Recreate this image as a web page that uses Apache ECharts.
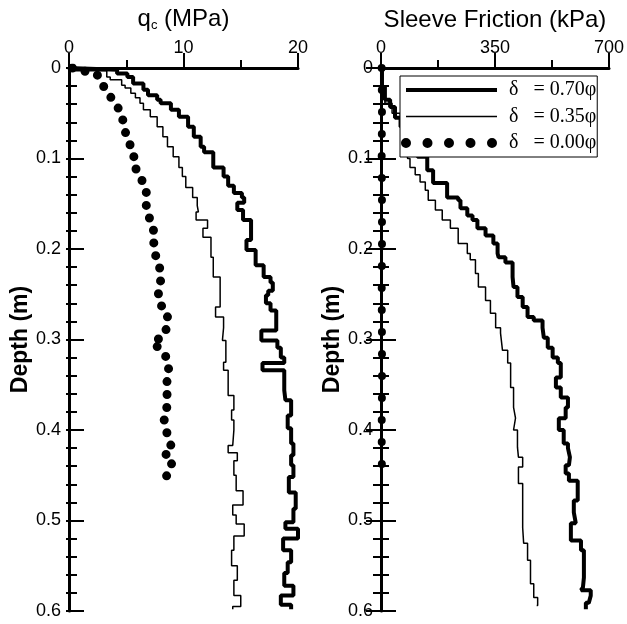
<!DOCTYPE html>
<html>
<head>
<meta charset="utf-8">
<script src="https://cdn.jsdelivr.net/npm/echarts@6/dist/echarts.min.js"></script>
<style>
html, body { margin: 0; padding: 0; background: #fff; }
#chart { width: 627px; height: 624px; }
</style>
</head>
<body>
<div id="chart"></div>
<script>
// legend names
const names = ['δ   = 0.70φ', 'δ   = 0.35φ', 'δ   = 0.00φ']

// cone resistance qc (MPa) against depth (m)
const qcDepth70 = [0, 0.002, 0.006, 0.01, 0.017, 0.024, 0.03, 0.035, 0.039, 0.046, 0.054, 0.065, 0.076, 0.087, 0.093, 0.11, 0.12, 0.13, 0.138, 0.143, 0.149, 0.157, 0.168, 0.19, 0.201, 0.218, 0.231, 0.237, 0.246, 0.251, 0.26, 0.268, 0.29, 0.301, 0.309, 0.32, 0.326, 0.334, 0.356, 0.367, 0.384, 0.398, 0.415, 0.428, 0.439, 0.452, 0.469, 0.487, 0.502, 0.509, 0.52, 0.533, 0.546, 0.558, 0.572, 0.583, 0.593, 0.598]
const qc70 = [0, 4.2, 5.1, 5.6, 6.5, 6.9, 7.7, 8.0, 8.9, 9.6, 10.4, 10.9, 11.5, 11.8, 12.6, 13.5, 13.9, 14.4, 15.1, 15.3, 14.7, 15.2, 15.9, 15.5, 16.3, 17.0, 17.6, 17.8, 17.4, 17.2, 17.6, 18.1, 16.8, 18.2, 18.5, 18.8, 16.9, 18.8, 18.9, 19.4, 19.1, 19.4, 19.6, 19.4, 19.6, 19.2, 19.8, 19.6, 18.9, 20.0, 18.7, 19.4, 19.1, 18.8, 19.6, 18.5, 19.4, 19.4]

const qcDepth35 = [0, 0.003, 0.01, 0.013, 0.019, 0.022, 0.028, 0.033, 0.039, 0.046, 0.054, 0.065, 0.076, 0.087, 0.098, 0.11, 0.12, 0.132, 0.143, 0.152, 0.159, 0.168, 0.177, 0.187, 0.209, 0.231, 0.264, 0.275, 0.287, 0.301, 0.325, 0.334, 0.362, 0.378, 0.389, 0.4, 0.417, 0.425, 0.434, 0.45, 0.467, 0.483, 0.494, 0.504, 0.517, 0.533, 0.55, 0.566, 0.583, 0.595, 0.598]
const qc35 = [0, 3.3, 3.6, 4.6, 4.9, 5.4, 5.8, 6.2, 6.5, 7.1, 7.7, 8.2, 8.6, 9.1, 9.6, 9.9, 10.2, 10.8, 11.2, 11.3, 11.1, 12.1, 11.7, 12.4, 12.6, 13.2, 12.8, 13.5, 13.4, 13.7, 13.5, 13.9, 14.4, 14.2, 14.4, 14.3, 13.9, 14.7, 14.4, 14.6, 15.2, 14.3, 14.6, 15.3, 14.4, 14.2, 14.7, 14.4, 15.0, 14.3, 14.3]

const qcDepth00 = [0, 0.002, 0.008, 0.022, 0.037, 0.05, 0.065, 0.079, 0.094, 0.105, 0.118, 0.133, 0.152, 0.157, 0.171, 0.183, 0.194, 0.205, 0.218, 0.235, 0.248, 0.26, 0.271, 0.284, 0.296, 0.303, 0.309, 0.321, 0.333, 0.352, 0.366, 0.381, 0.388, 0.406, 0.417, 0.425, 0.434, 0.441, 0.455, 0.462]
const qc00 = [0.3, 1.0, 2.5, 3.1, 3.9, 4.6, 4.8, 5.1, 5.7, 5.6, 6.1, 6.75, 6.75, 6.9, 7.1, 7.5, 7.4, 7.5, 7.9, 8.0, 7.8, 7.9, 8.6, 8.6, 8.3, 7.3, 7.8, 8.6, 8.7, 8.5, 8.6, 8.5, 8.3, 8.6, 8.9, 8.3, 9.1, 8.8, 8.4, 8.3]

// sleeve friction (kPa) against depth (m)
const fsDepth70 = [0, 0.021, 0.035, 0.043, 0.055, 0.065, 0.075, 0.085, 0.098, 0.113, 0.127, 0.143, 0.146, 0.155, 0.163, 0.168, 0.177, 0.185, 0.194, 0.205, 0.209, 0.215, 0.231, 0.242, 0.253, 0.264, 0.275, 0.279, 0.287, 0.298, 0.309, 0.32, 0.326, 0.342, 0.353, 0.364, 0.375, 0.387, 0.4, 0.415, 0.42, 0.43, 0.439, 0.448, 0.456, 0.478, 0.491, 0.503, 0.522, 0.533, 0.563, 0.574, 0.577, 0.583, 0.591, 0.598]
const fs70 = [3, 12, 28, 43, 60, 78, 95, 112, 142, 160, 203, 237, 244, 265, 281, 296, 321, 345, 358, 361, 382, 404, 407, 419, 435, 450, 469, 496, 500, 512, 527, 543, 552, 537, 552, 574, 567, 546, 561, 574, 580, 577, 567, 577, 604, 592, 598, 583, 614, 623, 620, 614, 644, 638, 629, 629]

const fsDepth35 = [0, 0.021, 0.039, 0.05, 0.06, 0.07, 0.08, 0.09, 0.1, 0.11, 0.118, 0.126, 0.135, 0.146, 0.157, 0.168, 0.177, 0.194, 0.205, 0.212, 0.227, 0.242, 0.257, 0.271, 0.287, 0.293, 0.312, 0.326, 0.353, 0.375, 0.387, 0.4, 0.419, 0.43, 0.441, 0.459, 0.508, 0.525, 0.544, 0.57, 0.585, 0.594]
const fs35 = [0, 12, 34, 59, 63, 70, 76, 82, 89, 105, 120, 136, 145, 167, 188, 213, 237, 265, 274, 290, 299, 321, 336, 352, 367, 373, 389, 398, 407, 413, 407, 419, 422, 435, 422, 435, 438, 450, 459, 469, 481, 478]

const fsDepth00 = [0, 0.05, 0.1, 0.15, 0.2, 0.25, 0.3, 0.35, 0.4, 0.46]
const fs00 = [2, 3, 2, 3, 3, 2, 3, 3, 2, 3]

const FONT = 'Liberation Sans, Arial, sans-serif'
const SERIF = 'Liberation Serif, Times New Roman, serif'

function pairs(xs, ys) {
  return xs.map((x, i) => [x, ys[i]])
}

function topAxis(grid, max, interval, name, rich) {
  return {
    gridIndex: grid, type: 'value', position: 'top', min: 0, max: max, interval: interval,
    name: name, nameLocation: 'middle', nameGap: 36,
    nameTextStyle: { color: '#000', fontFamily: FONT, fontSize: 24, rich: rich },
    axisLine: { show: true, lineStyle: { color: '#000', width: 2 } },
    axisTick: { show: false },
    axisLabel: { color: '#000', fontFamily: FONT, fontSize: 18, margin: 11 },
    splitLine: { show: false }
  }
}

function bottomAxis(grid, max, interval) {
  return {
    gridIndex: grid, type: 'value', position: 'bottom', min: 0, max: max, interval: interval,
    axisLine: { show: true, lineStyle: { color: '#000', width: 3 } },
    axisTick: { show: true, inside: true, length: 15, lineStyle: { color: '#000', width: 2 } },
    minorTick: { show: true, splitNumber: 2, length: 8, lineStyle: { color: '#000', width: 2 } },
    axisLabel: { show: false },
    splitLine: { show: false }
  }
}

function leftAxis(grid) {
  return {
    gridIndex: grid, type: 'value', position: 'left', inverse: true, min: 0, max: 0.6, interval: 0.1,
    name: 'Depth (m)', nameLocation: 'middle', nameGap: 30,
    nameTextStyle: { color: '#000', fontFamily: FONT, fontSize: 23, fontWeight: 'bold' },
    axisLine: { show: true, lineStyle: { color: '#000', width: 3 } },
    axisTick: { show: true, inside: true, length: 15, lineStyle: { color: '#000', width: 2 } },
    minorTick: { show: true, splitNumber: 5, length: 8, lineStyle: { color: '#000', width: 2 } },
    axisLabel: { color: '#000', fontFamily: FONT, fontSize: 18, margin: 8 },
    splitLine: { show: false }
  }
}

function rightAxis(grid, tickLen, minorLen) {
  return {
    gridIndex: grid, type: 'value', position: 'right', inverse: true, min: 0, max: 0.6, interval: 0.1,
    axisLine: { show: true, lineStyle: { color: '#000', width: 2 } },
    axisTick: { show: true, inside: true, length: tickLen, lineStyle: { color: '#000', width: 2 } },
    minorTick: { show: true, splitNumber: 5, length: minorLen, lineStyle: { color: '#000', width: 2 } },
    axisLabel: { show: false },
    splitLine: { show: false }
  }
}

const thick = { color: '#000', width: 4 }
const thin = { color: '#000', width: 1.5 }
const dots = { color: '#000', width: 9, type: [0, 13], cap: 'round' }
const dotsRight = { color: '#000', width: 8, type: [0, 22], cap: 'round' }

function stepSeries(name, xi, yi, data, style) {
  return {
    name: name, type: 'line', xAxisIndex: xi, yAxisIndex: yi, data: data,
    step: 'start', showSymbol: false, symbol: 'none', color: '#000', lineStyle: style
  }
}

function dotSeries(name, xi, yi, data, style) {
  return {
    name: name, type: 'line', xAxisIndex: xi, yAxisIndex: yi, data: data,
    showSymbol: false, symbol: 'none', color: '#000', lineStyle: style
  }
}

const chart = echarts.init(document.getElementById('chart'), null, { renderer: 'canvas' })

chart.setOption({
  backgroundColor: '#fff',
  animation: false,
  grid: [
    { left: 69, top: 68, width: 229, height: 543 },
    { left: 381, top: 68, width: 228, height: 543 }
  ],
  legend: {
    left: 400, top: 76, orient: 'vertical',
    backgroundColor: '#fff', borderColor: '#000', borderWidth: 1, borderRadius: 0,
    padding: [4, 1, 4, 1], itemWidth: 91, itemHeight: 20, itemGap: 6.5,
    itemStyle: { opacity: 0 },
    formatter: function (name) { return '{g|}' + name },
    textStyle: {
      color: '#000', fontFamily: SERIF, fontSize: 20, lineHeight: 20,
      rich: { g: { width: 7 } }
    },
    data: [
      { name: names[0], lineStyle: { color: '#000', width: 4, type: 'solid' } },
      { name: names[1], lineStyle: { color: '#000', width: 1.5, type: 'solid' } },
      { name: names[2], lineStyle: { color: '#000', width: 10, type: [0, 21.5], cap: 'round' } }
    ]
  },
  xAxis: [
    topAxis(0, 20, 10, '{q|q}{c|c}{q| (MPa)}', {
      q: { fontSize: 24, fontFamily: FONT, color: '#000' },
      c: { fontSize: 13, fontFamily: FONT, color: '#000', padding: [12, 0, 0, 0] }
    }),
    bottomAxis(0, 20, 10),
    topAxis(1, 700, 350, 'Sleeve Friction (kPa)', null),
    bottomAxis(1, 700, 350)
  ],
  yAxis: [
    leftAxis(0),
    rightAxis(0, 3, 3),
    leftAxis(1),
    rightAxis(1, 15, 8)
  ],
  series: [
    stepSeries(names[0], 0, 0, pairs(qc70, qcDepth70), thick),
    stepSeries(names[1], 0, 0, pairs(qc35, qcDepth35), thin),
    dotSeries(names[2], 0, 0, pairs(qc00, qcDepth00), dots),
    stepSeries(names[0], 2, 2, pairs(fs70, fsDepth70), thick),
    stepSeries(names[1], 2, 2, pairs(fs35, fsDepth35), thin),
    dotSeries(names[2], 2, 2, pairs(fs00, fsDepth00), dotsRight)
  ]
})
</script>
</body>
</html>
